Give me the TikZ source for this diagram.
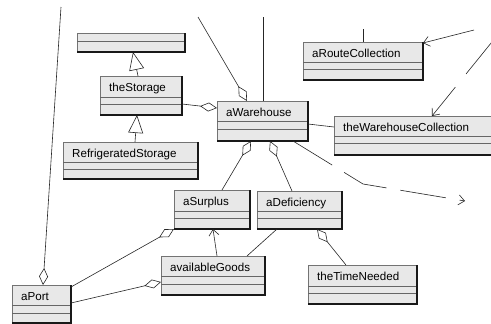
\documentclass[tikz,border=0pt]{standalone}
\usepackage{fontspec}
\setmainfont{Liberation Sans}
\usetikzlibrary{arrows.meta, calc}

\tikzset{
  objbox/.style={rectangle, draw=black!55, fill=black!9, line width=0.7pt,
    anchor=north west, inner sep=0pt, outer sep=0pt},
  objtext/.style={anchor=base west, inner sep=0pt,
    font=\fontsize{11.6}{14}\selectfont},
  objedge/.style={draw=black!90, line width=1.1pt},
  divider/.style={draw=black!60, line width=0.7pt},
  link/.style={draw=black!85, line width=0.6pt},
  aggr/.style={link, -{Diamond[open, length=17pt, width=9pt]}},
  inherit/.style={link, -{Triangle[open, length=18pt, width=15pt]}},
  navig/.style={link, -{Straight Barb[length=6pt, width=10pt]}},
  depend/.style={navig, dash pattern=on 46pt off 14pt}
}

% object box: name, x, y, width, height, first divider, second divider, label
\newcommand{\umlobj}[8]{%
  \node[objbox, minimum width=#4pt, minimum height=#5pt] (#1) at (#2,#3) {};
  \node[objtext] (#1-t) at ([xshift=9pt, yshift=-15pt]#1.north west) {#8};
  \draw[divider] ([yshift=-#6pt]#1.north west) -- ([yshift=-#6pt]#1.north east);
  \draw[divider] ([yshift=-#7pt]#1.north west) -- ([yshift=-#7pt]#1.north east);
  \draw[objedge] (#1.south west) -- (#1.south east) -- (#1.north east);
}

\begin{document}
\begin{tikzpicture}[x=1pt, y=-1pt]
  \useasboundingbox (0,0) rectangle (491,324);
  \clip (0,0) rectangle (491,324);

  % objects
  \umlobj{base}{77}{33}{108}{19}{8}{8}{}
  \umlobj{storage}{100}{76}{82}{39}{21}{28}{theStorage}
  \umlobj{refrig}{63}{142}{135}{37}{20}{27}{RefrigeratedStorage}
  \umlobj{warehouse}{217}{101}{91}{40}{20}{28}{aWarehouse}
  \umlobj{routes}{303}{42}{120}{38}{20}{27}{aRouteCollection}
  \umlobj{whcoll}{334}{116}{170}{39}{20}{27}{theWarehouseCollection}
  \umlobj{surplus}{174}{190}{76}{39}{21}{28}{aSurplus}
  \umlobj{deficiency}{257}{191}{85}{38}{20}{27}{aDeficiency}
  \umlobj{goods}{161}{256}{104}{39}{20}{28}{availableGoods}
  \umlobj{timeneeded}{308}{265}{109}{39}{21}{28}{theTimeNeeded}
  \umlobj{port}{12}{285}{59}{38}{20}{28}{aPort}

  % loose ends
  \coordinate (portup) at (61,7);
  \coordinate (whup) at (198,17);
  \coordinate (whtop) at (263,17);
  \coordinate (routesup) at (363,29);
  \coordinate (routesin) at (474,30);
  \coordinate (collin) at (500,32);
  \coordinate (bend) at (363,184);
  \coordinate (away) at (465,201);

  % connectors
  \draw[aggr] (portup) -- ([xshift=31pt]port.north west);
  \draw[aggr] (whup) -- ([xshift=30pt]warehouse.north west);
  \draw[link] (whtop) -- ([xshift=46pt]warehouse.north west);
  \draw[aggr] ([yshift=-28pt]storage.north east) -- ([yshift=-7pt]warehouse.north west);
  \draw[inherit] ([xshift=38pt]storage.north west) -- ([xshift=56pt]base.south west);
  \draw[inherit] ([xshift=72pt]refrig.north west) -- ([xshift=37pt]storage.south west);
  \draw[link] ([yshift=-23pt]warehouse.north east) -- ([yshift=-11pt]whcoll.north west);
  \draw[aggr] ([xshift=48pt]surplus.north west) -- ([xshift=34pt]warehouse.south west);
  \draw[aggr] ([xshift=35pt]deficiency.north west) -- ([xshift=53pt]warehouse.south west);
  \draw[depend] ([xshift=76pt]warehouse.south west) -- (bend) -- (away);
  \draw[navig] (routesin) -- ([yshift=-1pt]routes.north east);
  \draw[link] (routesup) -- ([xshift=60pt]routes.north west);
  \draw[navig, dash pattern=on 54pt off 17pt] (collin) -- ([xshift=98pt]whcoll.north west);
  \draw[aggr] ([yshift=-2pt]port.north east) -- (surplus.south west);
  \draw[aggr] ([yshift=-18pt]port.north east) -- ([yshift=-26pt]goods.north west);
  \draw[navig] ([xshift=56pt]goods.north west) -- ([xshift=39pt]surplus.south west);
  \draw[link] ([xshift=20pt]deficiency.south west) -- ([xshift=86pt]goods.north west);
  \draw[aggr] ([xshift=38pt]timeneeded.north west) -- ([xshift=60pt]deficiency.south west);
\end{tikzpicture}
\end{document}
